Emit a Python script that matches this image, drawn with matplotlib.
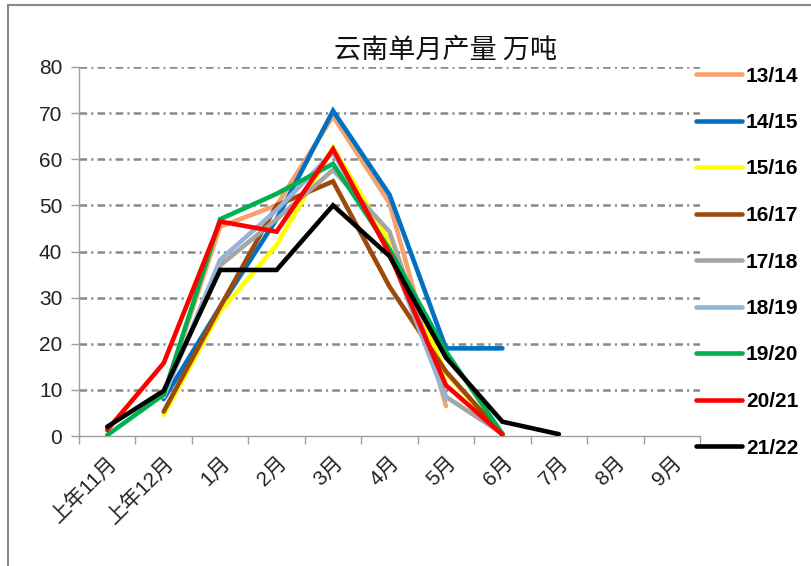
import numpy as np
import matplotlib
matplotlib.use("Agg")
import matplotlib.pyplot as plt
from matplotlib.lines import Line2D
from matplotlib import font_manager as fm

nan = np.nan
months = ['上年11月', '上年12月', '1月', '2月', '3月', '4月', '5月', '6月', '7月', '8月', '9月']
labels = ['13/14', '14/15', '15/16', '16/17', '17/18', '18/19', '19/20', '20/21', '21/22']
colors = ['#F6A26E', '#0070C0', '#FFFF00', '#9C4A0C', '#A5A5A5', '#95B3D7', '#00B050', '#FF0000', '#000000']

s1314 = [nan, 9.0, 45.4, 50.0, 69.3, 50.5, 6.5, nan, nan, nan, nan]
s1415 = [nan, 8.0, 28.0, 47.0, 70.5, 52.3, 19.0, 19.0, nan, nan, nan]
s1516 = [nan, 4.6, 27.0, 41.4, 62.5, 42.0, 13.5, 0.5, nan, nan, nan]
s1617 = [nan, 5.3, 28.0, 50.0, 55.2, 32.4, 14.0, 0.3, nan, nan, nan]
s1718 = [nan, 9.0, 37.0, 47.0, 57.7, 44.3, 8.5, 0.5, nan, nan, nan]
s1819 = [nan, 8.5, 38.2, 49.0, 61.5, 40.0, 8.0, nan, nan, nan, nan]
s1920 = [0.2, 9.0, 47.0, 52.5, 59.0, 40.5, 18.3, 0.5, nan, nan, nan]
s2021 = [1.3, 15.8, 46.5, 44.3, 62.2, 39.5, 11.0, 0.3, nan, nan, nan]
s2122 = [2.0, 9.8, 36.0, 36.0, 50.0, 39.0, 17.0, 3.1, 0.4, nan, nan]
series = [s1314, s1415, s1516, s1617, s1718, s1819, s1920, s2021, s2122]

names = {f.name for f in fm.fontManager.ttflist}
latin = 'Liberation Sans Narrow' if 'Liberation Sans Narrow' in names else 'Liberation Sans'
fam = [latin, 'Noto Sans CJK SC', 'DejaVu Sans']
plt.rcParams['font.family'] = fam
plt.rcParams['lines.scale_dashes'] = False

W, H = 812, 566
fig = plt.figure(figsize=(W / 100, H / 100), dpi=100)
ax = fig.add_axes([79 / W, 1 - 436 / H, (700 - 79) / W, (436 - 67) / H])

x = np.arange(len(months))
for vals, lab, c in zip(series, labels, colors):
    ax.plot(x, vals, color=c, lw=3.3, label=lab, solid_capstyle='round', solid_joinstyle='miter', zorder=3)

ax.set_xlim(-0.5, len(months) - 0.5)
ax.set_ylim(0, 80)
ax.set_yticks(np.arange(0, 81, 10))
ax.tick_params(axis='y', direction='out', length=6, width=1, color='#A0A0A0', labelsize=15, pad=6, labelcolor='#222222')
ax.set_xticks(x)
ax.set_xticklabels(months, rotation=45, ha='right', va='top', rotation_mode='anchor', fontsize=15, color='#222222')
ax.set_xticks(np.arange(-0.5, len(months)), minor=True)
ax.tick_params(axis='x', which='major', length=0, pad=12)
ax.tick_params(axis='x', which='minor', direction='out', length=6, width=1, color='#A0A0A0')

for v in range(10, 81, 10):
    ax.axhline(v, color='#888888', lw=1.8, linestyle=(0, (5.5, 3.0, 1.5, 3.0)), zorder=1)

for s in ['top', 'right']:
    ax.spines[s].set_visible(False)
for s in ['left', 'bottom']:
    ax.spines[s].set_color('#A0A0A0')
    ax.spines[s].set_linewidth(1)

fig.text(446 / W, 1 - 50 / H, '云南单月产量 万吨', fontsize=19.5, family=['Noto Sans CJK SC'],
         ha='center', va='center', color='#111111')

leg = ax.legend(loc='center left', bbox_to_anchor=(696 / W, 1 - 262 / H), bbox_transform=fig.transFigure,
                frameon=False, borderpad=0, borderaxespad=0, handlelength=2.2, handletextpad=0.2,
                labelspacing=1.32, prop={'family': latin, 'weight': 'bold', 'size': 15})

fig.add_artist(Line2D([8.5 / W, 8.5 / W], [0, 1 - 5 / H], transform=fig.transFigure, color='#888888', lw=1.5))
fig.add_artist(Line2D([8.5 / W, 1], [1 - 5 / H, 1 - 5 / H], transform=fig.transFigure, color='#888888', lw=1.5))

fig.savefig('out.png', dpi=100)
